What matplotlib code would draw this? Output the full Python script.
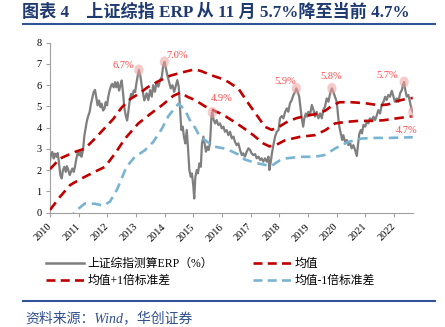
import matplotlib
matplotlib.use("Agg")
import matplotlib.pyplot as plt
from matplotlib.patches import Ellipse
from matplotlib.lines import Line2D

plt.rcParams['font.family'] = ['Noto Sans CJK SC', 'DejaVu Sans']

# ERP of the SSE composite (year, %)
erp_x = [2010.00, 2010.03, 2010.08, 2010.13, 2010.17, 2010.22, 2010.27, 2010.31, 2010.36, 2010.41,
         2010.45, 2010.50, 2010.55, 2010.59, 2010.64, 2010.69, 2010.73, 2010.78, 2010.83, 2010.87,
         2010.92, 2010.97, 2011.01, 2011.06, 2011.10, 2011.15, 2011.20, 2011.24, 2011.29, 2011.34,
         2011.38, 2011.43, 2011.48, 2011.52, 2011.57, 2011.62, 2011.66, 2011.71, 2011.76, 2011.80,
         2011.85, 2011.90, 2011.94, 2011.99, 2012.03, 2012.08, 2012.13, 2012.17, 2012.22, 2012.27,
         2012.31, 2012.36, 2012.41, 2012.45, 2012.50, 2012.55, 2012.59, 2012.64, 2012.69, 2012.73,
         2012.78, 2012.83, 2012.87, 2012.92, 2012.97, 2013.01, 2013.06, 2013.10, 2013.15, 2013.20,
         2013.24, 2013.29, 2013.37, 2013.43, 2013.49, 2013.55, 2013.60, 2013.66, 2013.72, 2013.78,
         2013.84, 2013.90, 2013.95, 2013.99, 2014.03, 2014.09, 2014.15, 2014.21, 2014.27, 2014.33,
         2014.38, 2014.44, 2014.49, 2014.53, 2014.58, 2014.63, 2014.67, 2014.72, 2014.77, 2014.81,
         2014.86, 2014.91, 2014.95, 2015.00, 2015.03, 2015.07, 2015.12, 2015.16, 2015.21, 2015.26,
         2015.30, 2015.35, 2015.40, 2015.44, 2015.49, 2015.53, 2015.58, 2015.63, 2015.66, 2015.71,
         2015.76, 2015.81, 2015.87, 2015.93, 2015.99, 2016.05, 2016.10, 2016.16, 2016.22, 2016.28,
         2016.34, 2016.40, 2016.45, 2016.51, 2016.57, 2016.63, 2016.69, 2016.74, 2016.80, 2016.86,
         2016.92, 2016.98, 2017.03, 2017.09, 2017.15, 2017.21, 2017.27, 2017.33, 2017.38, 2017.44,
         2017.50, 2017.56, 2017.62, 2017.65, 2017.70, 2017.74, 2017.79, 2017.85, 2017.91, 2017.97,
         2018.02, 2018.08, 2018.14, 2018.20, 2018.26, 2018.31, 2018.37, 2018.43, 2018.49, 2018.55,
         2018.59, 2018.64, 2018.69, 2018.73, 2018.78, 2018.83, 2018.87, 2018.92, 2018.97, 2019.01,
         2019.07, 2019.13, 2019.19, 2019.24, 2019.30, 2019.36, 2019.42, 2019.48, 2019.53, 2019.59,
         2019.65, 2019.71, 2019.77, 2019.83, 2019.88, 2019.94, 2020.00, 2020.05, 2020.09, 2020.14,
         2020.19, 2020.23, 2020.29, 2020.35, 2020.41, 2020.47, 2020.52, 2020.58, 2020.64, 2020.70,
         2020.74, 2020.79, 2020.84, 2020.88, 2020.93, 2020.99, 2021.05, 2021.10, 2021.16, 2021.22,
         2021.28, 2021.34, 2021.40, 2021.45, 2021.51, 2021.57, 2021.63, 2021.69, 2021.74, 2021.80,
         2021.86, 2021.92, 2021.98, 2022.03, 2022.09, 2022.15, 2022.21, 2022.27, 2022.31, 2022.35,
         2022.38, 2022.44, 2022.50, 2022.56, 2022.60, 2022.65]
erp_y = [2.47, 2.70, 2.86, 2.55, 2.78, 2.63, 2.81, 2.39, 1.77, 1.61,
         2.00, 2.16, 1.92, 2.19, 2.00, 1.77, 1.92, 2.08, 1.92, 2.16,
         2.55, 2.86, 2.70, 2.86, 2.63, 2.94, 3.64, 3.95, 4.34, 4.58,
         4.73, 5.13, 5.44, 5.67, 5.78, 5.36, 5.05, 5.28, 4.97, 5.13,
         4.81, 4.89, 5.20, 5.05, 5.44, 5.75, 5.98, 6.06, 5.90, 6.14,
         5.90, 6.14, 5.75, 5.98, 6.22, 5.60, 4.97, 4.58, 4.34, 4.73,
         5.28, 5.60, 5.44, 5.75, 5.67, 6.06, 6.45, 6.72, 6.45, 5.98,
         5.67, 5.28, 5.62, 5.30, 5.77, 5.46, 6.00, 5.69, 6.16, 5.93,
         6.24, 6.40, 6.95, 7.10, 6.87, 6.48, 6.16, 5.85, 6.00, 5.69,
         5.93, 6.24, 5.93, 4.99, 3.89, 4.05, 3.58, 3.26, 3.89, 3.11,
         2.01, 1.69, 1.85, 1.22, 0.67, 1.69, 2.01, 1.85, 2.32, 2.16,
         3.26, 3.58, 3.18, 2.87, 3.11, 2.95, 3.26, 4.52, 4.72, 4.36,
         4.20, 4.36, 4.13, 4.20, 3.97, 4.05, 3.81, 3.89, 3.65, 3.81,
         3.50, 3.58, 3.34, 3.18, 3.26, 2.95, 2.71, 2.79, 2.64, 2.87,
         3.03, 2.95, 2.79, 2.71, 2.76, 2.56, 2.64, 2.48, 2.56, 2.40,
         2.56, 2.40, 2.64, 2.01, 2.40, 2.79, 3.18, 3.58, 3.81, 3.89,
         4.44, 4.55, 4.44, 4.75, 4.91, 4.75, 5.15, 5.30, 5.54, 5.69,
         5.85, 5.69, 5.46, 4.99, 4.44, 4.05, 4.44, 4.67, 4.52, 4.75,
         4.60, 5.07, 4.83, 4.52, 4.75, 4.44, 4.67, 4.44, 4.83, 4.99,
         5.38, 5.22, 5.62, 5.85, 5.69, 5.46, 5.22, 4.52, 4.05, 3.73,
         3.42, 3.65, 3.34, 3.42, 3.18, 3.26, 3.03, 3.18, 2.95, 2.67,
         3.18, 3.73, 3.89, 3.73, 4.13, 4.05, 4.28, 4.20, 4.44, 4.33,
         4.52, 4.36, 4.60, 4.83, 4.67, 5.07, 5.22, 5.46, 5.30, 5.54,
         5.46, 5.74, 5.46, 5.22, 5.38, 5.22, 5.62, 5.77, 6.00, 6.15,
         5.85, 5.46, 5.54, 5.15, 4.91, 4.75]

# mean
mean_x = [2010.0, 2010.35, 2010.7, 2011.1, 2011.57, 2011.92, 2012.27, 2012.62, 2013.08, 2013.5,
          2013.9, 2014.3, 2014.55, 2014.8, 2015.06, 2015.41, 2015.8, 2015.99, 2016.34, 2016.69,
          2017.09, 2017.44, 2017.65, 2017.9, 2018.2, 2018.72, 2019.24, 2019.6, 2019.94, 2020.29,
          2020.75, 2021.22, 2021.63, 2022.03, 2022.44, 2022.65]
mean_y = [0.13, 0.75, 1.30, 1.61, 1.93, 2.16, 2.79, 3.49, 4.20, 4.65,
          5.05, 5.50, 5.65, 5.45, 5.30, 5.00, 4.75, 4.65, 4.35, 4.04,
          3.65, 3.26, 3.12, 3.20, 3.41, 3.57, 3.65, 3.88, 4.20, 4.27,
          4.32, 4.32, 4.35, 4.43, 4.50, 4.55]

# mean + 1 std
up_x = [2010.0, 2010.35, 2010.87, 2011.22, 2011.57, 2011.92, 2012.2, 2012.5, 2012.8, 2013.1,
        2013.4, 2013.8, 2014.2, 2014.6, 2015.06, 2015.3, 2015.64, 2016.0, 2016.22, 2016.57,
        2016.92, 2017.21, 2017.5, 2017.73, 2018.0, 2018.3, 2018.6, 2018.9, 2019.3, 2019.6,
        2019.85, 2020.1, 2020.5, 2021.0, 2021.5, 2021.8, 2022.1, 2022.4, 2022.65]
up_y = [2.05, 2.55, 2.86, 3.02, 3.49, 4.00, 4.40, 4.95, 5.35, 5.60,
        5.90, 6.20, 6.45, 6.60, 6.75, 6.65, 6.46, 6.30, 6.15, 5.84,
        5.14, 4.59, 4.04, 3.90, 4.05, 4.30, 4.45, 4.55, 4.65, 4.80,
        5.05, 5.20, 5.20, 5.15, 5.05, 5.10, 5.25, 5.35, 5.40]

# mean - 1 std
dn_x = [2010.0, 2010.5, 2010.87, 2011.22, 2011.57, 2011.86, 2012.09, 2012.33, 2012.67, 2012.96,
        2013.31, 2013.6, 2013.9, 2014.13, 2014.48, 2014.7, 2014.88, 2015.06, 2015.23, 2015.41,
        2015.7, 2016.16, 2016.55, 2016.8, 2017.15, 2017.5, 2017.73, 2018.0, 2018.2, 2018.72,
        2019.24, 2019.59, 2019.94, 2020.4, 2020.87, 2021.33, 2021.8, 2022.38, 2022.65]
dn_y = [-1.5, -0.7, 0.05, 0.44, 0.42, 0.33, 0.52, 1.07, 2.16, 2.63,
        2.94, 3.33, 3.95, 4.55, 5.13, 4.85, 4.35, 4.00, 3.57, 3.41,
        3.12, 3.00, 2.75, 2.50, 2.35, 2.25, 2.21, 2.45, 2.55, 2.63,
        2.63, 2.72, 3.02, 3.33, 3.49, 3.52, 3.52, 3.54, 3.55]

# marked peaks: circle (x, y) and label
peak_x = [2013.10, 2013.99, 2015.66, 2018.59, 2019.83, 2022.35, 2022.65]
peak_y = [6.72, 7.10, 4.72, 5.85, 5.85, 6.15, 4.75]
peak_lbl = ['6.7%', '7.0%', '4.9%', '5.9%', '5.8%', '5.7%', '4.7%']
lbl_x = [2012.56, 2014.44, 2016.0, 2018.21, 2019.82, 2021.77, 2022.44]
lbl_y = [6.93, 7.40, 5.37, 6.18, 6.40, 6.45, 3.87]

years = list(range(2010, 2023))

RED = '#C00000'
BLUE = '#78B4D2'
GRAY = '#7F7F7F'
NAVY = '#1F3A70'
serif = ['Liberation Serif', 'Noto Sans CJK SC']

W, H = 445, 327
fig = plt.figure(figsize=(W / 100, H / 100), dpi=100)
ax = fig.add_axes([50 / W, 1 - 212.7 / H, 363.3 / W, 170 / H])

dash = (0, (3.6, 2.2))
ax.plot(erp_x, erp_y, color=GRAY, lw=1.6, zorder=3)
ax.plot(mean_x, mean_y, color=RED, lw=1.9, linestyle=dash, zorder=4)
ax.plot(up_x, up_y, color=RED, lw=1.9, linestyle=dash, zorder=4)
ax.plot(dn_x, dn_y, color=BLUE, lw=1.9, linestyle=dash, zorder=4)

for px, py, t, tx, ty in zip(peak_x, peak_y, peak_lbl, lbl_x, lbl_y):
    ax.add_patch(Ellipse((px, py), 0.32, 0.52, color='#F2A0A0', alpha=0.55, lw=0, zorder=5))
    ax.text(tx, ty, t, color='#FF4A4A', fontsize=7.5, family=serif, ha='center', va='center')

ax.set_xlim(2010, 2022.67)
ax.set_ylim(0, 8)
ax.set_xticks(years)
ax.set_xticklabels([str(y) for y in years], rotation=45, ha='right', va='center',
                   rotation_mode='anchor', family=serif, fontsize=7.5)
ax.set_yticks(range(0, 9))
ax.set_yticklabels([str(v) for v in range(0, 9)], family=serif, fontsize=7.5)
ax.tick_params(axis='x', length=3, pad=6, color='#A0A0A0')
ax.tick_params(axis='y', length=3, pad=3, color='#A0A0A0')
for s in ['top', 'right']:
    ax.spines[s].set_visible(False)
for s in ['left', 'bottom']:
    ax.spines[s].set_color('#A0A0A0')
    ax.spines[s].set_linewidth(0.8)

# legend, filled column by column
handles = [Line2D([], [], color=GRAY, lw=1.8),
           Line2D([], [], color=RED, lw=1.9, linestyle=(0, (3.4, 2.0))),
           Line2D([], [], color=RED, lw=1.9, linestyle=(0, (3.4, 2.0))),
           Line2D([], [], color=BLUE, lw=1.9, linestyle=(0, (3.4, 2.0)))]
labels = ['上证综指测算ERP（%）', '均值+1倍标准差', '均值', '均值-1倍标准差']
fig.legend(handles, labels, ncol=2, loc='upper left', bbox_to_anchor=(40 / W, 1 - 252 / H),
           frameon=False, prop={'family': serif, 'size': 8.5}, handlelength=3.2,
           handletextpad=0.3, columnspacing=3.4, labelspacing=0.45, borderpad=0)

# title, rules and source
fig.text(22 / W, 1 - 12 / H, '图表 4　上证综指 ERP 从 11 月 5.7%降至当前 4.7%',
         fontsize=12.3, fontweight='bold', color=NAVY, family=serif, va='center')
fig.add_artist(Line2D([22.7 / W, 435 / W], [1 - 23.5 / H, 1 - 23.5 / H], color='#2F5597', lw=1.5))
fig.add_artist(Line2D([22.7 / W, 435 / W], [1 - 301 / H, 1 - 301 / H], color='#2F5597', lw=1.5))
fig.text(25 / W, 1 - 318 / H, '资料来源：Wind，华创证券', fontsize=10, color='#2F4F8F',
         family=serif, style='italic', va='center')

fig.savefig('out.png', dpi=100)
